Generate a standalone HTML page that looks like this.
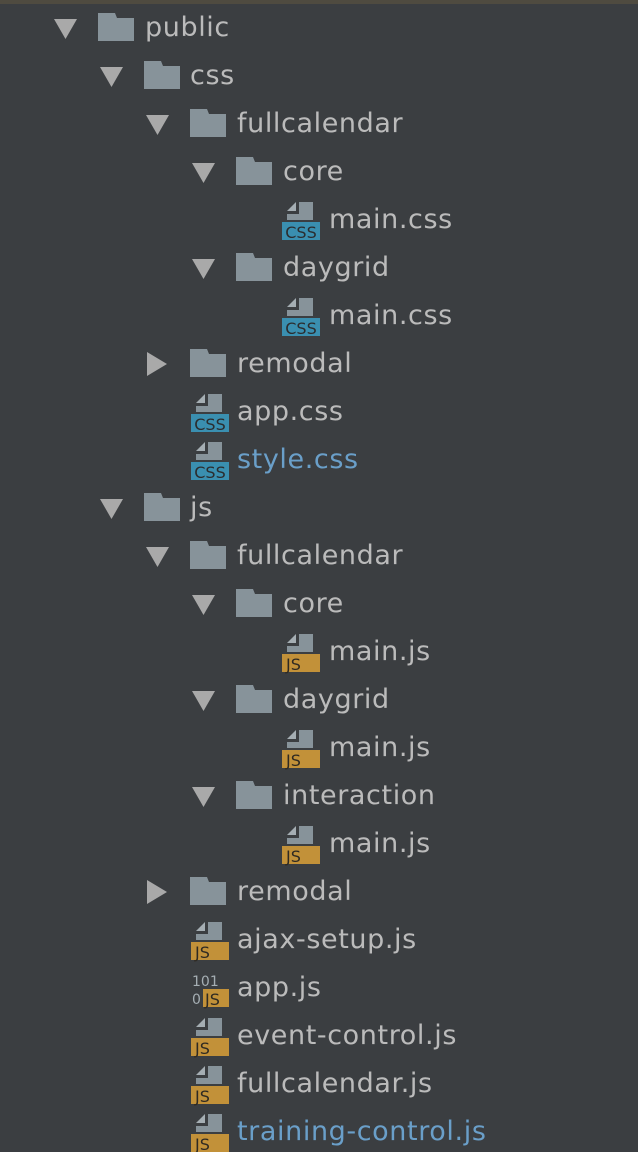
<!DOCTYPE html>
<html><head><meta charset="utf-8"><style>
body{margin:0;width:638px;height:1152px;background:#3b3e41;position:relative;overflow:hidden;font-family:"DejaVu Sans","Liberation Sans",sans-serif;}
.top{position:absolute;left:0;top:0;width:638px;height:4px;background:#4f4b40;}
.t{position:absolute;font-size:27px;letter-spacing:0.6px;color:#bbbbbb;line-height:30px;white-space:nowrap;}
.b{color:#6a9fc9;}
svg{position:absolute;}
</style></head><body>
<div class="top"></div>
<svg width="638" height="1152" style="left:0;top:0">
<defs>
<g id="down"><polygon points="0,-9 23,-9 11.5,11" fill="#a9a9a9"/></g>
<g id="right"><polygon points="0,-12 20,0 0,12" fill="#a9a9a9"/></g>
<g id="fold"><path d="M0,-14 H17 L19,-9 H36 V14 H0 Z" fill="#87939a"/></g>
<g id="page"><polygon points="5,-9 14,-18 14,-9" fill="#a5aeb3"/><path d="M17,-18 H31 V0 H5 V-6 H17 Z" fill="#87939a"/></g>
<g id="css"><use href="#page"/><rect x="0" y="2" width="38" height="18" fill="#3a8fb0"/><text x="19" y="18" font-size="16" font-family="DejaVu Sans" fill="#2b2d2f" text-anchor="middle">CSS</text></g>
<g id="js"><use href="#page"/><rect x="0" y="2" width="38" height="18" fill="#c29139"/><text x="4" y="18" font-size="16" font-family="DejaVu Sans" fill="#2f2a22">JS</text></g>
</defs>
<use href="#down" x="54" y="28"/><use href="#fold" x="98" y="27"/>
<use href="#down" x="100" y="76"/><use href="#fold" x="144" y="75"/>
<use href="#down" x="146" y="124"/><use href="#fold" x="190" y="123"/>
<use href="#down" x="192" y="172"/><use href="#fold" x="236" y="171"/>
<use href="#css" x="282" y="220"/>
<use href="#down" x="192" y="268"/><use href="#fold" x="236" y="267"/>
<use href="#css" x="282" y="316"/>
<use href="#right" x="147" y="364"/><use href="#fold" x="190" y="363"/>
<use href="#css" x="191" y="412"/>
<use href="#css" x="191" y="460"/>
<use href="#down" x="100" y="508"/><use href="#fold" x="144" y="507"/>
<use href="#down" x="146" y="556"/><use href="#fold" x="190" y="555"/>
<use href="#down" x="192" y="604"/><use href="#fold" x="236" y="603"/>
<use href="#js" x="282" y="652"/>
<use href="#down" x="192" y="700"/><use href="#fold" x="236" y="699"/>
<use href="#js" x="282" y="748"/>
<use href="#down" x="192" y="796"/><use href="#fold" x="236" y="795"/>
<use href="#js" x="282" y="844"/>
<use href="#right" x="147" y="892"/><use href="#fold" x="190" y="891"/>
<use href="#js" x="191" y="940"/>
<text x="192" y="986" font-size="14" font-family="DejaVu Sans" fill="#a5aeb3">101</text>
<text x="192" y="1004" font-size="14" font-family="DejaVu Sans" fill="#a5aeb3">0</text>
<rect x="203" y="989" width="26" height="18" fill="#c29139"/><text x="205" y="1005" font-size="16" font-family="DejaVu Sans" fill="#2f2a22">JS</text>
<use href="#js" x="191" y="1036"/>
<use href="#js" x="191" y="1084"/>
<use href="#js" x="191" y="1132"/>
</svg>
<div class="t" style="left:145px;top:13px">public</div>
<div class="t" style="left:190px;top:61px">css</div>
<div class="t" style="left:237px;top:109px">fullcalendar</div>
<div class="t" style="left:283px;top:157px">core</div>
<div class="t" style="left:329px;top:205px">main.css</div>
<div class="t" style="left:283px;top:253px">daygrid</div>
<div class="t" style="left:329px;top:301px">main.css</div>
<div class="t" style="left:237px;top:349px">remodal</div>
<div class="t" style="left:237px;top:397px">app.css</div>
<div class="t b" style="left:237px;top:445px">style.css</div>
<div class="t" style="left:190px;top:493px">js</div>
<div class="t" style="left:237px;top:541px">fullcalendar</div>
<div class="t" style="left:283px;top:589px">core</div>
<div class="t" style="left:329px;top:637px">main.js</div>
<div class="t" style="left:283px;top:685px">daygrid</div>
<div class="t" style="left:329px;top:733px">main.js</div>
<div class="t" style="left:283px;top:781px">interaction</div>
<div class="t" style="left:329px;top:829px">main.js</div>
<div class="t" style="left:237px;top:877px">remodal</div>
<div class="t" style="left:237px;top:925px">ajax-setup.js</div>
<div class="t" style="left:237px;top:973px">app.js</div>
<div class="t" style="left:237px;top:1021px">event-control.js</div>
<div class="t" style="left:237px;top:1069px">fullcalendar.js</div>
<div class="t b" style="left:237px;top:1117px">training-control.js</div>
</body></html>
